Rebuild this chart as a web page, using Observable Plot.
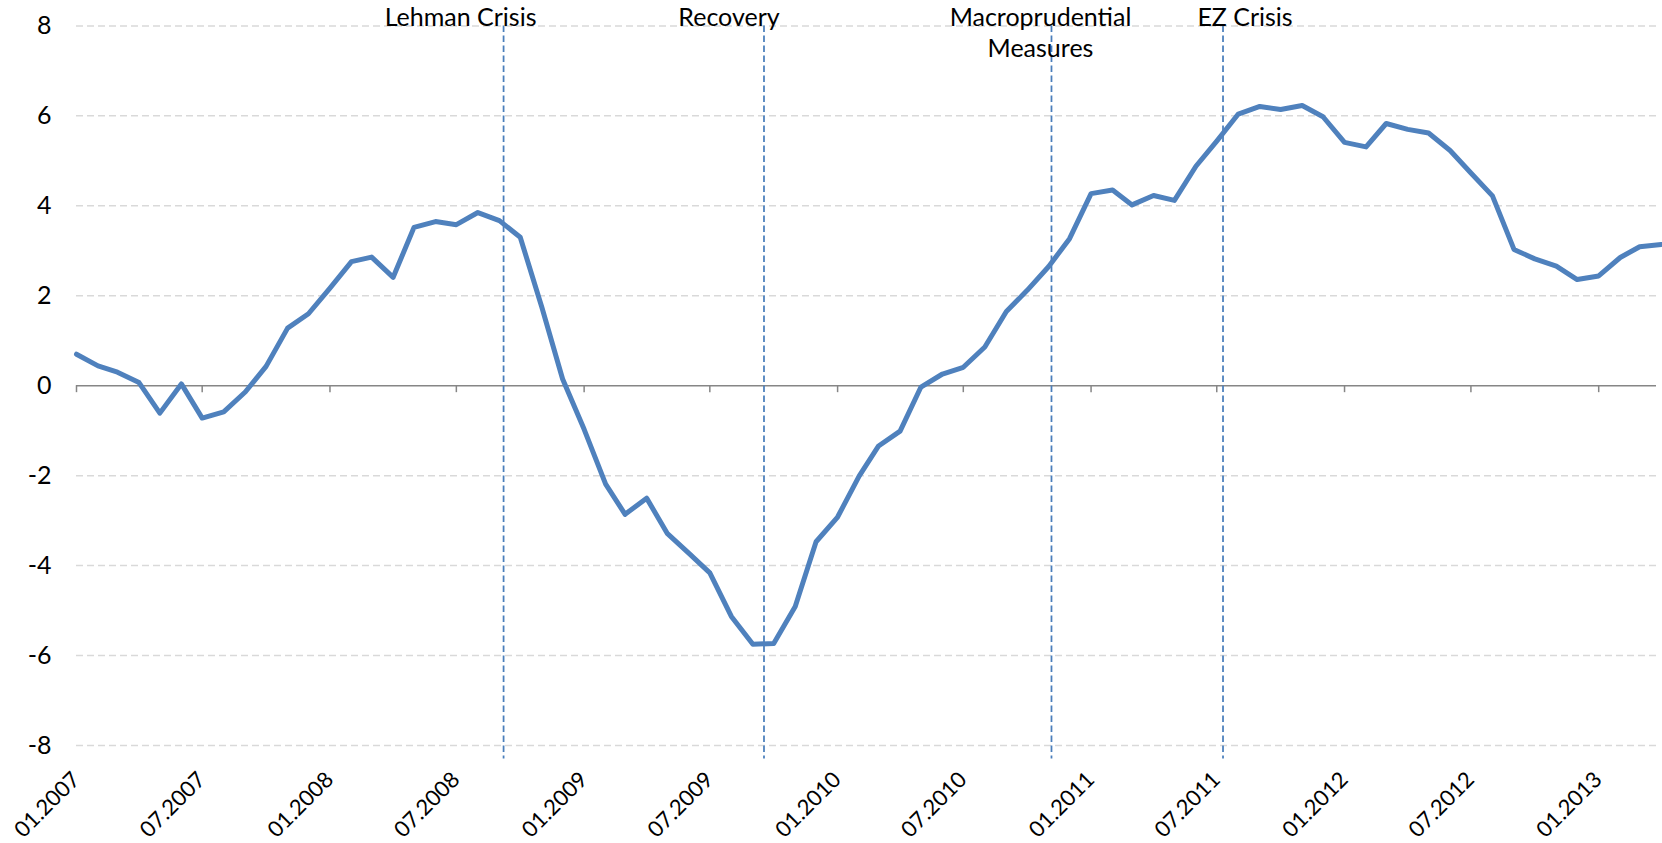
<!DOCTYPE html>
<html><head><meta charset="utf-8">
<script src="https://cdn.jsdelivr.net/npm/d3@7"></script>
<script src="https://cdn.jsdelivr.net/npm/@observablehq/plot@0.6"></script>
<style>html,body{margin:0;padding:0;background:#fff}</style>
</head><body><div id="chart"></div>
<script>
// ---- data ----
const startMonth = "2007-01";
const values = [
  0.70, 0.44, 0.30, 0.07, -0.61, 0.04, -0.72, -0.58, -0.14, 0.43, 1.28, 1.60,
  2.17, 2.76, 2.86, 2.41, 3.52, 3.65, 3.58, 3.85, 3.67, 3.30, 1.75, 0.15,
  -0.97, -2.19, -2.86, -2.50, -3.29, -3.73, -4.16, -5.13, -5.75, -5.73, -4.91, -3.47,
  -2.92, -2.01, -1.34, -1.01, -0.03, 0.26, 0.41, 0.86, 1.65, 2.12, 2.65, 3.27,
  4.27, 4.35, 4.02, 4.23, 4.12, 4.88, 5.44, 6.04, 6.21, 6.14, 6.23, 5.98,
  5.41, 5.31, 5.83, 5.70, 5.62, 5.23, 4.73, 4.22, 3.03, 2.82, 2.66, 2.36,
  2.44, 2.85, 3.09, 3.14
];
const xTickLabels = ["01.2007","07.2007","01.2008","07.2008","01.2009","07.2009","01.2010",
  "07.2010","01.2011","07.2011","01.2012","07.2012","01.2013"];
const yTicks = [-8, -6, -4, -2, 0, 2, 4, 6, 8];
const eventNames = ["Lehman Crisis", "Recovery", "Macroprudential\nMeasures", "EZ Crisis"];
const eventDates = ["2008-09-07", "2009-09-17", "2010-11-05", "2011-07-10"];

// ---- build ----
const t0 = d3.utcParse("%Y-%m")(startMonth);
const data = values.map((v, i) => ({date: d3.utcMonth.offset(t0, i), value: v}));
const tickDates = xTickLabels.map(d3.utcParse("%m.%Y"));
const events = eventNames.map((name, i) => ({name, date: d3.utcParse("%Y-%m-%d")(eventDates[i])}));
const labelDx = [-43, -35, -11, 22];
const FS = 25;

const chart = Plot.plot({
  width: 1662, height: 843,
  marginLeft: 76, marginRight: 6, marginTop: 25.4, marginBottom: 98,
  style: {fontFamily: "Lato, sans-serif", fontSize: FS + "px", color: "#000", background: "#fff"},
  x: {type: "utc", domain: [t0, d3.utcMonth.offset(t0, values.length - 1)], range: [76, 1660.7], axis: null},
  y: {domain: [-8, 8], axis: null},
  marks: [
    Plot.ruleY(yTicks.filter(d => d !== 0), {stroke: "#d9d9d9", strokeWidth: 1.5, strokeDasharray: "7,4"}),
    Plot.ruleY([0], {stroke: "#868686", strokeWidth: 1.5}),
    Plot.ruleX(tickDates, {x: d => d, y1: 0, y2: -0.155, stroke: "#868686", strokeWidth: 1.5}),
    Plot.ruleX(events, {x: "date", y1: 8, y2: -8.3, stroke: "#4a7ebb", strokeWidth: 1.75, strokeDasharray: "6.5,3.5"}),
    Plot.line(data, {x: "date", y: "value", stroke: "#4f81bd", strokeWidth: 5, strokeLinejoin: "round", strokeLinecap: "round"}),
    Plot.text(yTicks, {frameAnchor: "left", y: d => d, text: d => String(d), textAnchor: "end", dx: -25, fill: "#000", fontSize: FS}),
    Plot.text(tickDates, {x: d => d, frameAnchor: "bottom", text: (d, i) => xTickLabels[i], rotate: -45, textAnchor: "end", lineAnchor: "bottom", dx: 4.7, dy: 35.5, fill: "#000", fontSize: 22}),
    ...events.map((e, i) => Plot.text([e], {x: "date", y: 8, text: "name", dx: labelDx[i], dy: -22, lineAnchor: "top", lineHeight: 1.24, textAnchor: "middle", fill: "#000", fontSize: FS}))
  ]
});
document.getElementById("chart").appendChild(chart);
</script>
</body></html>
